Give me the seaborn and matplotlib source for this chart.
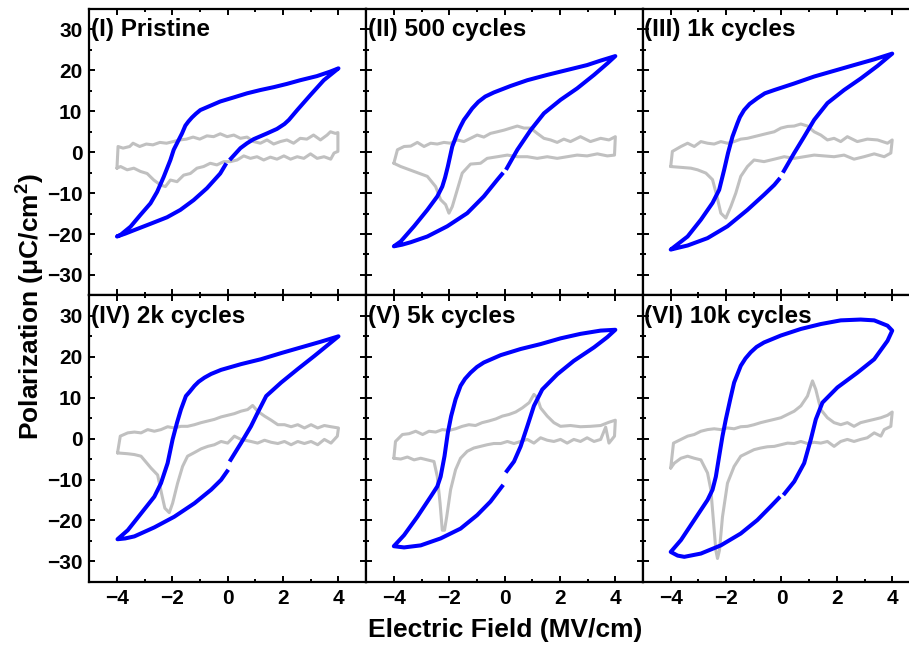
import matplotlib
matplotlib.use("Agg")
import matplotlib.pyplot as plt
import seaborn as sns
from matplotlib.ticker import MultipleLocator

# panel titles
titles = ["(I) Pristine", "(II) 500 cycles", "(III) 1k cycles",
          "(IV) 2k cycles", "(V) 5k cycles", "(VI) 10k cycles"]

# P-E loops (E in MV/cm, P in uC/cm2), starting just after the gap at E=0
loop_1 = [(0.07, -1.9), (0.46, 1.0), (0.70, 2.2), (0.94, 3.2), (1.18, 3.9), (1.42, 4.6), (1.78, 5.7),
          (2.05, 6.9), (2.21, 7.9), (2.51, 10.3), (2.99, 14.0), (3.47, 17.6), (4.0, 20.5),
          (3.70, 19.7), (3.22, 18.6), (2.62, 17.6), (2.14, 16.7), (1.66, 15.9), (1.18, 15.2), (0.70, 14.4),
          (0.22, 13.4), (-0.27, 12.4), (-0.75, 11.0), (-0.99, 10.3), (-1.15, 9.4), (-1.29, 8.5),
          (-1.42, 7.5), (-1.53, 6.5), (-1.65, 4.6), (-1.83, 2.2), (-1.95, 0.6), (-2.07, -1.9),
          (-2.31, -6.0), (-2.55, -9.7), (-2.79, -12.5), (-3.15, -15.3), (-3.51, -18.2), (-3.87, -20.2),
          (-4.0, -20.6),
          (-3.70, -19.9), (-3.40, -19.1), (-2.79, -17.5), (-2.19, -15.9), (-1.71, -14.1), (-1.23, -11.7),
          (-0.75, -8.8), (-0.27, -5.2), (-0.05, -2.7)]
loop_2 = [(0.05, -4.3), (0.46, 0.6), (0.94, 5.4), (1.42, 9.5), (2.02, 12.8), (2.62, 15.6), (3.23, 18.9),
          (3.71, 21.7), (4.0, 23.5),
          (3.47, 22.4), (2.98, 21.3), (2.26, 20.1), (1.54, 18.9), (0.82, 17.6), (0.22, 16.2), (-0.39, 14.6),
          (-0.70, 13.6), (-0.95, 12.3), (-1.17, 10.7), (-1.35, 9.0), (-1.47, 7.9), (-1.60, 6.2),
          (-1.71, 4.6), (-1.89, 1.4), (-2.05, -3.5), (-2.15, -6.2), (-2.25, -8.4), (-2.43, -10.8),
          (-2.79, -14.1), (-3.27, -18.1), (-3.75, -21.8), (-4.0, -23.0),
          (-3.70, -22.6), (-3.39, -22.0), (-2.79, -20.6), (-2.07, -18.1), (-1.35, -14.9), (-0.75, -10.8),
          (-0.26, -6.7), (-0.05, -5.0)]
loop_3 = [(0.05, -5.0), (0.46, -0.2), (0.82, 3.8), (1.18, 7.9), (1.66, 12.0), (2.26, 15.2), (2.86, 18.0),
          (3.47, 21.1), (4.0, 24.1),
          (3.35, 22.7), (2.62, 21.3), (1.90, 19.9), (1.18, 18.5), (0.46, 16.8), (-0.26, 15.2), (-0.60, 14.4),
          (-0.87, 13.2), (-1.15, 11.8), (-1.35, 10.3), (-1.50, 8.6), (-1.59, 7.1), (-1.77, 3.8),
          (-1.93, -0.2), (-2.07, -4.3), (-2.25, -9.2), (-2.49, -12.4), (-2.91, -16.5), (-3.39, -20.6),
          (-4.0, -23.8),
          (-3.70, -23.3), (-3.39, -22.8), (-2.67, -21.0), (-1.95, -18.1), (-1.23, -14.1), (-0.63, -10.4),
          (-0.26, -8.0), (-0.05, -6.3)]
loop_4 = [(0.07, -5.6), (0.48, -1.1), (0.84, 3.0), (1.08, 6.3), (1.39, 10.4), (1.93, 13.7), (2.53, 17.0),
          (3.13, 20.2), (4.0, 25.0),
          (3.37, 23.7), (2.65, 22.3), (1.93, 20.9), (1.20, 19.4), (0.48, 18.2), (-0.24, 16.8), (-0.60, 15.8),
          (-0.84, 14.9), (-1.05, 13.9), (-1.20, 12.9), (-1.38, 11.4), (-1.51, 10.4), (-1.69, 7.1),
          (-1.83, 3.9), (-1.99, -0.2), (-2.17, -6.0), (-2.41, -10.9), (-2.65, -14.2), (-3.13, -18.3),
          (-3.61, -22.4), (-3.98, -24.6),
          (-3.70, -24.4), (-3.37, -23.9), (-2.65, -21.7), (-1.93, -19.1), (-1.20, -15.8), (-0.60, -12.5),
          (-0.24, -10.1), (0.02, -7.6)]
loop_5 = [(0.04, -8.3), (0.34, -5.6), (0.58, -1.9), (0.82, 3.0), (1.06, 8.0), (1.36, 12.0), (1.90, 15.7),
          (2.50, 19.0), (3.23, 22.3), (3.71, 24.8), (4.0, 26.6),
          (3.47, 26.4), (2.74, 25.6), (2.02, 24.5), (1.30, 23.1), (0.58, 21.9), (-0.14, 20.4), (-0.75, 18.6),
          (-1.00, 17.5), (-1.23, 16.1), (-1.43, 14.6), (-1.59, 12.9), (-1.77, 9.6), (-1.93, 5.5),
          (-2.05, 1.4), (-2.17, -4.3), (-2.31, -9.3), (-2.43, -11.7), (-2.67, -14.2), (-3.15, -19.1),
          (-3.63, -23.6), (-4.0, -26.3),
          (-3.63, -26.6), (-3.03, -26.1), (-2.31, -24.4), (-1.59, -22.0), (-0.99, -18.7), (-0.51, -15.4),
          (-0.05, -11.3)]
loop_6 = [(0.07, -13.8), (0.46, -10.5), (0.82, -6.0), (1.06, -0.2), (1.24, 4.7), (1.48, 8.8), (2.02, 12.5),
          (2.74, 16.1), (3.35, 19.4), (3.83, 23.9), (4.0, 26.4),
          (3.83, 27.6), (3.35, 28.9), (2.86, 29.1), (2.14, 28.9), (1.42, 28.0), (0.70, 26.8), (-0.02, 25.2),
          (-0.63, 23.5), (-0.90, 22.4), (-1.11, 21.1), (-1.30, 19.6), (-1.47, 17.8), (-1.71, 13.7),
          (-1.85, 9.6), (-2.01, 4.7), (-2.13, 0.6), (-2.25, -4.3), (-2.37, -9.3), (-2.49, -12.5),
          (-2.67, -15.0), (-3.15, -19.9), (-3.63, -24.8), (-4.0, -27.7),
          (-3.75, -28.6), (-3.51, -28.9), (-2.91, -28.1), (-2.19, -26.1), (-1.47, -23.2), (-0.87, -19.9),
          (-0.39, -16.6), (-0.05, -14.2)]

# switching current traces (grey), same axes
curr_1 = [(-4.0, -3.9), (-3.96, 1.4), (-3.78, 1.0), (-3.54, 1.4), (-3.42, 2.2), (-3.18, 1.4), (-2.94, 2.0),
          (-2.70, 1.8), (-2.45, 2.4), (-2.21, 2.2), (-1.97, 2.6), (-1.73, 3.0), (-1.49, 3.2), (-1.25, 3.7),
          (-1.01, 3.2), (-0.75, 4.0), (-0.51, 3.8), (-0.27, 4.5), (-0.02, 3.8), (0.22, 4.2), (0.46, 3.4),
          (0.70, 3.7), (0.94, 2.6), (1.18, 2.2), (1.42, 3.0), (1.66, 2.0), (1.90, 2.6), (2.14, 3.0), (2.38, 2.2),
          (2.62, 3.4), (2.86, 3.2), (3.10, 4.2), (3.35, 3.0), (3.59, 4.2), (3.71, 5.0), (3.89, 4.6), (3.98, 4.8),
          (3.98, 0.2), (3.84, -0.2), (3.72, -1.7), (3.48, -1.1), (3.23, -1.5), (2.99, -0.4), (2.75, -1.5),
          (2.51, -1.1), (2.27, -1.7), (2.03, -0.9), (1.78, -1.7), (1.54, -1.2), (1.30, -1.9), (1.06, -1.1),
          (0.82, -1.5), (0.58, -0.9), (0.34, -1.9), (0.10, -2.3), (-0.14, -2.3), (-0.39, -3.1), (-0.63, -2.7),
          (-0.87, -3.5), (-1.11, -3.9), (-1.35, -5.2), (-1.59, -5.6), (-1.83, -7.2), (-2.07, -6.8),
          (-2.25, -8.4), (-2.43, -8.0), (-2.67, -6.8), (-2.91, -5.2), (-3.15, -4.7), (-3.39, -3.9),
          (-3.63, -4.3), (-3.87, -3.5), (-4.0, -3.9)]
curr_2 = [(-4.0, -2.7), (-3.87, 0.6), (-3.63, 1.4), (-3.39, 1.5), (-3.15, 2.4), (-2.91, 1.4), (-2.67, 2.2),
          (-2.43, 2.0), (-2.19, 2.4), (-1.95, 2.2), (-1.71, 3.0), (-1.47, 2.6), (-1.23, 3.4), (-0.99, 4.2),
          (-0.75, 3.7), (-0.51, 4.6), (-0.26, 5.0), (-0.02, 5.4), (0.22, 5.9), (0.46, 6.4), (0.70, 5.9),
          (0.94, 5.9), (1.18, 4.6), (1.42, 3.4), (1.66, 3.0), (1.90, 2.4), (2.14, 3.2), (2.38, 2.6), (2.74, 3.8),
          (3.10, 2.6), (3.47, 3.4), (3.77, 3.0), (4.0, 3.8), (3.97, -0.7),
          (3.71, -0.9), (3.35, -0.4), (2.98, -0.9), (2.62, -0.7), (2.26, -1.1), (1.90, -1.5), (1.54, -1.1),
          (1.18, -1.5), (0.82, -1.1), (0.46, -1.1), (0.10, -0.7), (-0.26, -1.1), (-0.63, -1.5), (-0.87, -2.7),
          (-1.23, -2.9), (-1.53, -5.1), (-1.71, -9.2), (-1.89, -13.3), (-2.01, -14.9), (-2.13, -12.8),
          (-2.31, -11.6), (-2.49, -8.4), (-2.79, -5.9), (-3.27, -4.7), (-3.75, -3.5), (-4.0, -2.7)]
curr_3 = [(-4.0, -3.5), (-3.94, 0.2), (-3.63, 1.4), (-3.39, 2.2), (-3.15, 1.4), (-2.91, 2.6), (-2.67, 2.2),
          (-2.43, 2.0), (-2.19, 2.6), (-1.95, 2.2), (-1.71, 2.6), (-1.47, 3.2), (-1.23, 3.4), (-0.99, 3.8),
          (-0.75, 4.2), (-0.51, 4.6), (-0.26, 5.0), (-0.02, 5.9), (0.22, 6.3), (0.46, 6.4), (0.70, 6.9),
          (0.94, 6.4), (1.18, 5.0), (1.42, 4.2), (1.66, 3.0), (1.90, 3.4), (2.14, 2.6), (2.38, 3.8), (2.74, 2.6),
          (3.10, 3.2), (3.47, 3.0), (3.83, 2.2), (4.0, 3.0), (3.95, -0.2),
          (3.71, -1.1), (3.35, -0.4), (2.98, -1.1), (2.62, -1.7), (2.26, -0.7), (1.90, -1.1), (1.54, -0.9),
          (1.18, -0.7), (0.82, -1.1), (0.46, -1.5), (0.10, -1.1), (-0.26, -1.7), (-0.63, -2.3), (-0.99, -1.9),
          (-1.23, -3.5), (-1.47, -5.9), (-1.65, -10.0), (-1.83, -13.3), (-2.01, -16.1), (-2.19, -14.9),
          (-2.33, -10.8), (-2.49, -6.7), (-2.73, -5.1), (-3.03, -4.3), (-3.27, -3.9), (-3.63, -3.7),
          (-4.0, -3.5)]
curr_4 = [(-3.98, -3.5), (-3.88, 0.6), (-3.61, 1.4), (-3.37, 1.6), (-3.13, 1.4), (-2.89, 2.2), (-2.65, 1.8),
          (-2.41, 2.2), (-2.17, 2.9), (-1.93, 2.6), (-1.69, 3.0), (-1.45, 3.0), (-1.20, 3.4), (-0.96, 3.9),
          (-0.72, 4.3), (-0.48, 4.7), (-0.24, 5.3), (0.00, 5.7), (0.24, 6.1), (0.48, 6.7), (0.72, 7.1),
          (0.90, 8.1), (1.08, 6.7), (1.33, 5.5), (1.57, 4.5), (1.81, 3.4), (2.05, 3.4), (2.29, 2.9), (2.53, 3.4),
          (2.77, 2.6), (3.01, 3.4), (3.25, 2.6), (3.49, 3.2), (3.73, 2.9), (4.0, 2.6), (3.96, 0.6),
          (3.73, -1.1), (3.49, -0.2), (3.25, -1.5), (3.01, -0.7), (2.77, -1.2), (2.53, -0.7), (2.29, -1.5),
          (2.05, -0.7), (1.81, -1.2), (1.57, -0.9), (1.33, -0.4), (1.08, -1.1), (0.84, -0.7), (0.48, -0.2),
          (0.24, 0.6), (0.0, -1.1), (-0.24, -0.7), (-0.48, -1.5), (-0.72, -1.9), (-0.96, -2.5), (-1.20, -3.4),
          (-1.45, -4.3), (-1.63, -6.8), (-1.81, -10.9), (-1.99, -15.8), (-2.11, -18.1), (-2.27, -17.0),
          (-2.39, -13.4), (-2.53, -8.9), (-2.77, -7.2), (-3.13, -4.3), (-3.37, -3.9), (-3.61, -3.7),
          (-3.98, -3.5)]
curr_5 = [(-4.0, -4.8), (-3.94, -0.7), (-3.69, 1.0), (-3.45, 1.2), (-3.21, 1.8), (-2.96, 1.0), (-2.73, 1.8),
          (-2.49, 1.6), (-2.25, 2.2), (-2.01, 2.0), (-1.77, 2.4), (-1.53, 3.0), (-1.29, 3.4), (-1.05, 3.2),
          (-0.81, 3.9), (-0.57, 4.3), (-0.32, 4.8), (-0.08, 5.5), (0.16, 5.9), (0.40, 6.5), (0.64, 7.5),
          (0.89, 8.8), (1.06, 10.8), (1.18, 10.0), (1.30, 7.5), (1.54, 5.5), (1.78, 3.9), (2.02, 3.0),
          (2.38, 3.2), (2.74, 2.9), (3.10, 3.0), (3.47, 3.2), (3.77, 4.0), (4.0, 4.5), (3.97, 0.6),
          (3.77, -1.1), (3.65, 2.8), (3.47, -0.2), (3.23, -0.7), (2.98, 0.2), (2.74, -0.7), (2.50, -0.2),
          (2.26, -1.1), (2.02, -0.2), (1.78, -0.7), (1.54, -0.4), (1.30, 0.2), (1.06, -1.1), (0.82, -0.2),
          (0.58, -0.7), (0.34, -1.2), (0.10, -0.7), (-0.14, -1.2), (-0.39, -1.2), (-0.63, -1.5), (-0.87, -1.9),
          (-1.11, -2.3), (-1.35, -3.1), (-1.59, -4.8), (-1.77, -7.6), (-1.95, -12.5), (-2.09, -19.1),
          (-2.17, -22.4), (-2.25, -22.4), (-2.33, -15.8), (-2.43, -9.3), (-2.55, -5.6), (-2.79, -5.2),
          (-3.03, -4.8), (-3.27, -5.2), (-3.51, -4.5), (-3.75, -5.0), (-4.0, -4.8)]
curr_6 = [(-4.0, -7.2), (-3.90, -1.1), (-3.63, -0.2), (-3.39, 0.6), (-3.15, 1.0), (-2.91, 1.8), (-2.67, 2.2),
          (-2.43, 2.4), (-2.19, 2.2), (-1.95, 2.6), (-1.71, 2.4), (-1.47, 2.9), (-1.23, 3.0), (-0.99, 3.4),
          (-0.75, 3.9), (-0.51, 4.3), (-0.26, 4.7), (-0.02, 5.1), (0.22, 5.9), (0.46, 6.7), (0.70, 8.0),
          (0.94, 10.4), (1.06, 12.9), (1.12, 14.1), (1.24, 12.0), (1.42, 7.1), (1.66, 5.1), (1.90, 3.9),
          (2.14, 3.4), (2.38, 3.9), (2.62, 3.0), (2.86, 3.9), (3.10, 4.3), (3.35, 4.7), (3.59, 5.1), (3.83, 5.7),
          (4.0, 6.5), (3.95, 3.0),
          (3.71, 2.2), (3.59, 0.6), (3.35, 1.4), (3.10, 0.2), (2.86, -0.2), (2.62, -0.7), (2.38, -0.2),
          (2.14, -0.7), (1.90, -1.9), (1.66, -0.7), (1.42, -1.1), (1.18, -0.9), (0.94, -1.2), (0.70, -0.7),
          (0.46, -1.2), (0.22, -1.1), (-0.02, -1.5), (-0.26, -1.9), (-0.51, -2.0), (-0.75, -2.3), (-0.99, -2.7),
          (-1.23, -3.5), (-1.47, -4.3), (-1.71, -6.8), (-1.95, -10.9), (-2.13, -19.1), (-2.24, -27.3),
          (-2.31, -29.3), (-2.37, -27.3), (-2.45, -20.7), (-2.55, -12.5), (-2.67, -8.4), (-2.91, -5.2),
          (-3.15, -4.8), (-3.39, -4.3), (-3.63, -4.8), (-3.87, -6.0), (-4.0, -7.2)]

loops = [loop_1, loop_2, loop_3, loop_4, loop_5, loop_6]
currents = [curr_1, curr_2, curr_3, curr_4, curr_5, curr_6]

sns.set_theme(style="ticks")
plt.rcParams['font.family'] = ['Liberation Sans', 'DejaVu Sans']
plt.rcParams['font.weight'] = 'bold'
plt.rcParams['text.color'] = 'black'
plt.rcParams['axes.labelcolor'] = 'black'
plt.rcParams['xtick.color'] = 'black'
plt.rcParams['ytick.color'] = 'black'
plt.rcParams['mathtext.fontset'] = 'custom'
plt.rcParams['mathtext.rm'] = 'Liberation Sans'
plt.rcParams['mathtext.bf'] = 'Liberation Sans:bold'

fig, axes = plt.subplots(2, 3, figsize=(9.09, 6.45), dpi=100, sharex=True, sharey=True)
fig.subplots_adjust(left=0.0982, right=1.012, top=0.986, bottom=0.098, wspace=0, hspace=0)

for k, ax in enumerate(axes.flat):
    ce = [p[0] for p in currents[k]]
    cp = [p[1] for p in currents[k]]
    le = [p[0] for p in loops[k]]
    lp = [p[1] for p in loops[k]]
    sns.lineplot(x=ce, y=cp, sort=False, estimator=None, ax=ax, color='#C0C0C0', linewidth=2.2)
    sns.lineplot(x=le, y=lp, sort=False, estimator=None, ax=ax, color='#0000FF', linewidth=2.9,
                 solid_joinstyle='round', solid_capstyle='butt')
    ax.set_xlim(-5, 5)
    ax.set_ylim(-35, 35)
    ax.xaxis.set_major_locator(MultipleLocator(2))
    ax.xaxis.set_minor_locator(MultipleLocator(1))
    ax.yaxis.set_major_locator(MultipleLocator(10))
    ax.yaxis.set_minor_locator(MultipleLocator(5))
    ax.tick_params(which='both', direction='in', top=True, right=True, width=1.4,
                   colors='black', labelcolor='black')
    ax.tick_params(which='major', length=4, labelsize=15, pad=5)
    ax.tick_params(which='minor', length=2.5)
    for s in ax.spines.values():
        s.set_linewidth(1.6)
        s.set_color('black')
    for lab in ax.get_xticklabels() + ax.get_yticklabels():
        lab.set_fontweight('bold')
    ax.set_xlabel('')
    ax.set_ylabel('')
    ax.text(-4.95, 28.3, titles[k], fontsize=17.5, fontweight='bold', color='black',
            ha='left', va='baseline')

fig.text(0.5556, 0.013, 'Electric Field (MV/cm)', fontsize=19, fontweight='bold', color='black',
         ha='center', va='baseline')
fig.text(0.033, 0.318, r'Polarization ($\mathbf{\mu}$C/cm$^{\mathbf{2}}$)', fontsize=19,
         fontweight='bold', color='black', rotation=90, ha='center', va='bottom')

fig.savefig('out.png', dpi=100)
